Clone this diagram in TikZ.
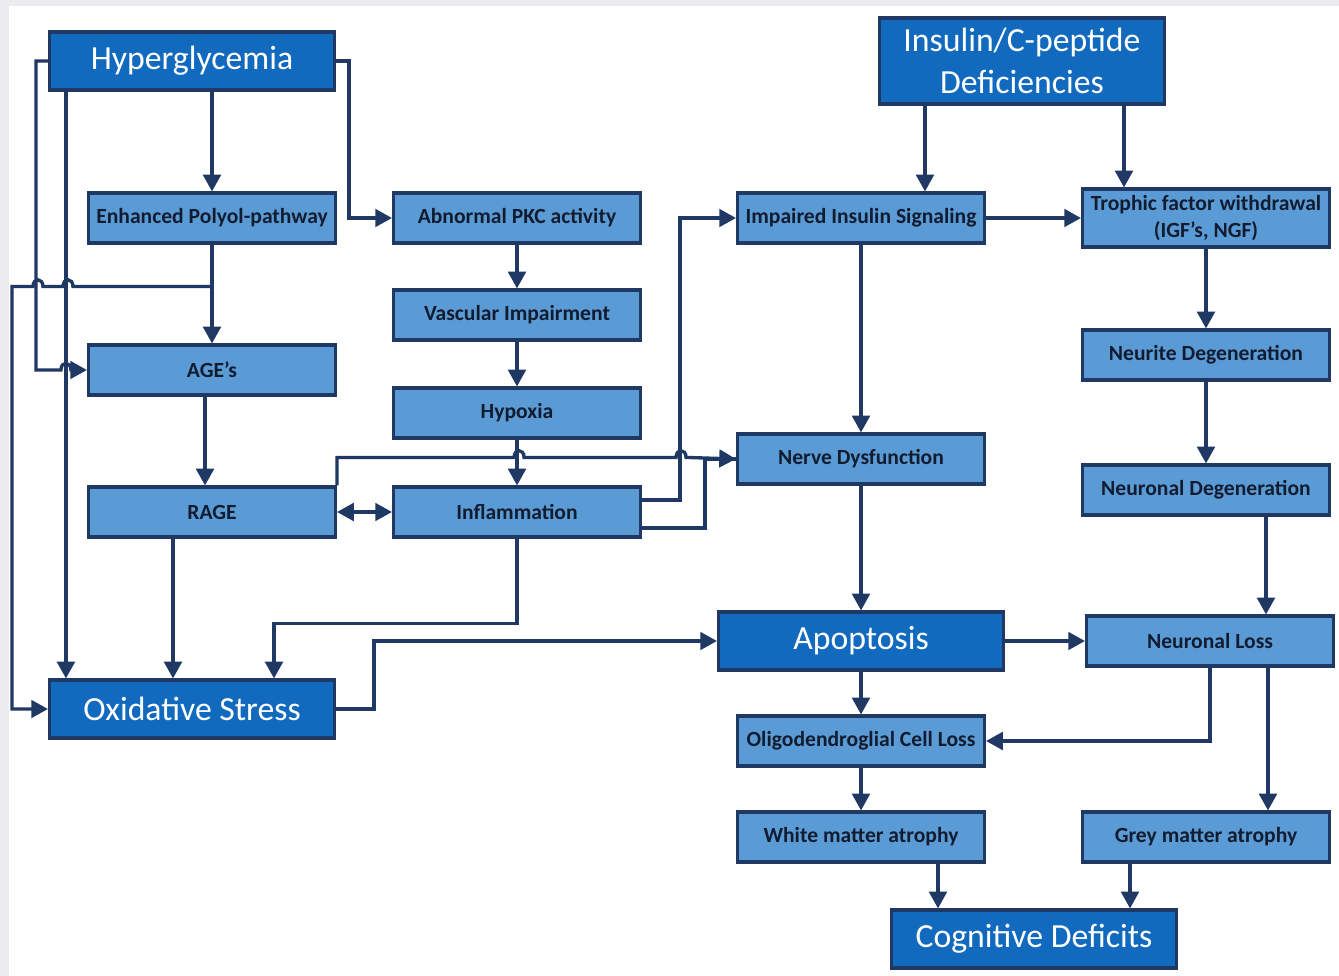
\documentclass[tikz,border=0pt]{standalone}
\usepackage{fontspec}
\setmainfont{Carlito}
\usetikzlibrary{arrows.meta,calc}
\definecolor{darkbox}{RGB}{17,106,190}
\definecolor{lightbox}{RGB}{91,155,213}
\definecolor{edgenavy}{RGB}{31,56,100}
\definecolor{textnavy}{RGB}{18,28,48}
\definecolor{framegray}{RGB}{236,236,238}
\begin{document}
\begin{tikzpicture}[x=0.02cm,y=-0.02cm,line width=1.9pt,color=edgenavy,>={Triangle[length=9.5pt,width=10pt]}]
	\tikzstyle{box}=[draw=edgenavy,fill=lightbox,text=textnavy,line width=1.8pt,inner sep=0pt,minimum width=4.94cm,minimum height=1cm,align=center,font=\bfseries\fontsize{12.3}{15}\selectfont]
	\tikzstyle{bigbox}=[box,fill=darkbox,text=white,minimum width=5.7cm,minimum height=1.16cm,font=\fontsize{19.2}{23.5}\selectfont]
	\useasboundingbox (0,0) rectangle (1339,976);
	\fill[framegray] (0,0) rectangle (1339,976);
	\fill[white] (9,6) rectangle (1339,976);

	\path (192, 61) node[bigbox] (hyp)   {Hyperglycemia};
	\path (1022,61) node[bigbox,minimum height=1.72cm] (insc) {Insulin/C-peptide\\Deficiencies};
	\path (212,218) node[box]    (poly)  {Enhanced Polyol-pathway};
	\path (517,218) node[box]    (pkc)   {Abnormal PKC activity};
	\path (861,218) node[box]    (ins)   {Impaired Insulin Signaling};
	\path (1206,218) node[box,minimum height=1.16cm] (tro) {Trophic factor withdrawal\\(IGF’s, NGF)};
	\path (517,315) node[box]    (vasc)  {Vascular Impairment};
	\path (1206,355) node[box]   (neu)   {Neurite Degeneration};
	\path (212,370) node[box]    (age)   {AGE’s};
	\path (517,413) node[box]    (hypo)  {Hypoxia};
	\path (861,459) node[box]    (nerve) {Nerve Dysfunction};
	\path (1206,490) node[box]   (ndeg)  {Neuronal Degeneration};
	\path (212,512) node[box]    (rage)  {RAGE};
	\path (517,512) node[box]    (infl)  {Inflammation};
	\path (861,641) node[bigbox] (apo)   {Apoptosis};
	\path (1210,641) node[box]   (nloss) {Neuronal Loss};
	\path (192,709) node[bigbox] (oxi)   {Oxidative Stress};
	\path (861,741) node[box]    (olig)  {Oligodendroglial Cell Loss};
	\path (861,837) node[box]    (white) {White matter atrophy};
	\path (1206,837) node[box]   (grey)  {Grey matter atrophy};
	\path (1034,939) node[bigbox] (cog)  {Cognitive Deficits};

	\draw[->] (poly.north |- hyp.south) -- (poly.north);
	\draw[->] (hyp.east) -- ++(13,0) |- (pkc.west);
	\draw[->] (hyp.west) -- ++(-12,0) |- ($(age.west)+(-26,0)$) .. controls +(0,-9) and +(0,-9) .. ++(10,0) -- (age.west);
	\draw[->] ($(hyp.south west)+(18,0)$) -- ($(oxi.north west)+(18,0)$);
	\draw[->] (poly.south) -- (age.north);
	\coordinate (br) at ($(poly.south)+(0,42)$);
	\draw[->] (br) -- ++(-139,0) .. controls +(0,-9) and +(0,-9) .. ++(-10,0) -- ++(-20,0) .. controls +(0,-9) and +(0,-9) .. ++(-10,0) -- ++(-21,0) |- (oxi.west);
	\draw[->] (pkc) -- (vasc);
	\draw[->] (vasc) -- (hypo);
	\draw[->] (hypo) -- (infl);
	\draw[->] ($(age.south)+(-7,0)$) -- ($(rage.north)+(-7,0)$);
	\draw[<->] (rage) -- (infl);
	\draw[->] (rage.north east) -- ++(0,-28) -- ++(177,0) .. controls +(0,-9) and +(0,-9) .. ++(10,0) -- ++(152,0) .. controls +(0,-9) and +(0,-9) .. ++(10,0) -- (nerve.west);
	\draw[->] ($(infl.east)+(0,-12)$) -- ++(38,0) |- (ins.west);
	\draw ($(infl.east)+(0,16)$) -- ++(63,0) |- (nerve.west);
	\draw[->] ($(rage.south)+(-39,0)$) -- ($(oxi.north)+(-19,0)$);
	\draw[->] (infl.south) -- ++(0,85) -| ($(oxi.north)+(82,0)$);
	\draw[->] (oxi.east) -- ++(38,0) |- (apo.west);
	\draw[->] ($(insc.south)+(-97,0)$) -- ($(ins.north)+(64,0)$);
	\draw[->] ($(insc.south)+(102,0)$) -- ($(tro.north)+(-82,0)$);
	\draw[->] (ins) -- (tro);
	\draw[->] (ins) -- (nerve);
	\draw[->] (tro) -- (neu);
	\draw[->] (neu) -- (ndeg);
	\draw[->] ($(ndeg.south)+(60,0)$) -- ($(nloss.north)+(56,0)$);
	\draw[->] (nerve) -- (apo);
	\draw[->] (apo) -- (nloss);
	\draw[->] (apo) -- (olig);
	\draw[->] (nloss.south) |- (olig.east);
	\draw[->] ($(nloss.south)+(58,0)$) -- ($(grey.north)+(62,0)$);
	\draw[->] (olig) -- (white);
	\draw[->] ($(white.south)+(77,0)$) -- ($(cog.north)+(-96,0)$);
	\draw[->] ($(grey.south)+(-76,0)$) -- ($(cog.north)+(96,0)$);
\end{tikzpicture}
\end{document}
